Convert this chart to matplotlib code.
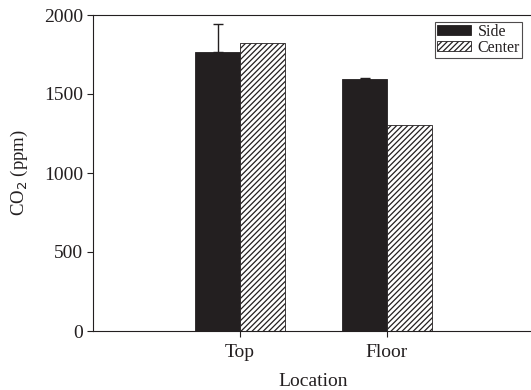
import numpy as np
import matplotlib.pyplot as plt

plt.rcParams['font.family'] = ['Liberation Serif', 'DejaVu Serif']
plt.rcParams['hatch.linewidth'] = 0.9

locations = ['Top', 'Floor']
side = [1765, 1595]
center = [1822, 1305]
side_err = [177, 6]

fig = plt.figure(figsize=(5.31, 3.9), dpi=100)
ax = fig.add_axes([93 / 531, 1 - 331 / 390, (534 - 93) / 531, (331 - 15) / 390])

x = np.arange(len(locations))
w = 0.306
ax.bar(x - w / 2, side, w, color='#231f20', edgecolor='#231f20', linewidth=0.6, label='Side',
       yerr=[[0, 0], side_err], error_kw=dict(ecolor='#231f20', elinewidth=1, capsize=3.8, capthick=1))
ax.bar(x + w / 2, center, w, color='white', edgecolor='#231f20', hatch='//////', linewidth=0.6,
       label='Center')

ax.set_xlim(-1, 2)
ax.set_ylim(0, 2000)
ax.set_xticks(x)
ax.set_xticklabels(locations)
ax.set_yticks([0, 500, 1000, 1500, 2000])
ax.tick_params(labelsize=14, color='#231f20', labelcolor='#231f20', direction='out', length=4.3, pad=3)
ax.tick_params(axis='x', pad=5)
ax.spines['right'].set_visible(False)
for s in ['left', 'top', 'bottom']:
    ax.spines[s].set_color('#231f20')

ax.set_xlabel('Location', fontsize=14, labelpad=9, color='#231f20')
ax.set_ylabel('CO$_2$ (ppm)', fontsize=13.5, labelpad=10, color='#231f20')

leg = ax.legend(loc='upper right', fontsize=11.5, frameon=True, fancybox=False, edgecolor='#231f20',
                handlelength=2.1, handleheight=0.55, handletextpad=0.45, borderpad=0.12,
                labelspacing=0.0, borderaxespad=0)
leg.get_frame().set_linewidth(0.8)
for t in leg.get_texts():
    t.set_color('#231f20')
leg.set_bbox_to_anchor((522 / 531, 1 - 22 / 390), transform=fig.transFigure)

fig.savefig('out.png', dpi=100)
